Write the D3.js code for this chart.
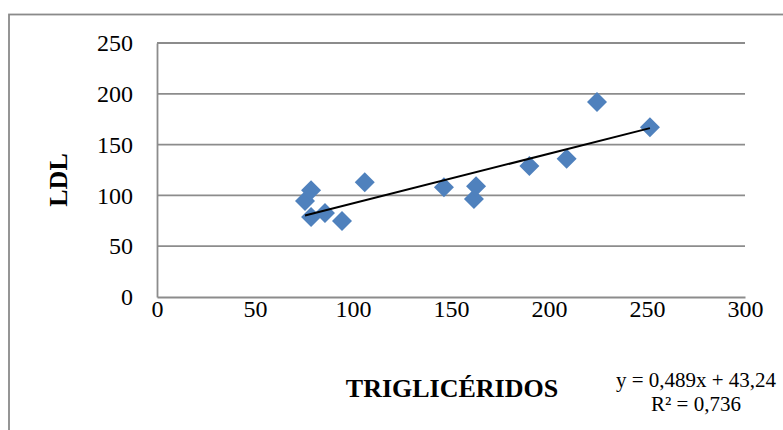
<!DOCTYPE html>
<html>
<head>
<meta charset="utf-8">
<script src="https://cdn.jsdelivr.net/npm/d3@7/dist/d3.min.js"></script>
<style>
  body { margin: 0; background: #fff; }
  svg { display: block; font-family: "Liberation Serif", "Times New Roman", serif; }
  svg text { font-family: "Liberation Serif", "Times New Roman", serif; }
</style>
</head>
<body>
<div id="chart"></div>
<script>
// triglicéridos (x) vs LDL (y)
const trigValues = [75.5, 78.6, 78.6, 85.7, 94.4, 106, 146.4, 161.7, 162.8, 190, 209, 224.5, 251.5];
const ldlValues = [94.5, 105, 78.7, 82.7, 74.8, 113, 108, 96.5, 109, 129, 136, 192, 167];
const xTicks = [0, 50, 100, 150, 200, 250, 300];
const yTicks = [0, 50, 100, 150, 200, 250];
// trendline from the chart's own label
const slope = 0.489;
const intercept = 43.24;
const eqLabel = 'y = 0,489x + 43,24';
const r2Label = 'R² = 0,736';

const WIDTH = 783;
const HEIGHT = 430;
const PLOT = {left: 157, right: 745, top: 43, bottom: 297};
const SERIF = '"Liberation Serif", "Times New Roman", serif';

const points = trigValues.map((x, i) => [x, ldlValues[i]]);

const xScale = d3.scaleLinear()
                 .domain([0, 300])
                 .range([PLOT.left, PLOT.right]);

const yScale = d3.scaleLinear()
                 .domain([0, 250])
                 .range([PLOT.bottom, PLOT.top]);

const svg = d3.select('#chart')
              .append('svg')
              .attr('width', WIDTH)
              .attr('height', HEIGHT);

// chart area border (runs off the right and bottom edges)
svg.append('rect')
   .attr('x', 9)
   .attr('y', 14.5)
   .attr('width', WIDTH + 20)
   .attr('height', HEIGHT + 20)
   .attr('fill', 'none')
   .attr('stroke', '#8a8a8a')
   .attr('stroke-width', 1.8);

// horizontal gridlines
svg.append('g')
   .selectAll('line')
   .data(yTicks.filter(t => t > 0))
   .enter()
   .append('line')
   .attr('x1', PLOT.left)
   .attr('x2', PLOT.right)
   .attr('y1', d => yScale(d))
   .attr('y2', d => yScale(d))
   .attr('stroke', '#8c8c8c')
   .attr('stroke-width', 1.8);

const xAxis = d3.axisBottom(xScale)
                .tickValues(xTicks)
                .tickSize(0)
                .tickPadding(3);

const yAxis = d3.axisLeft(yScale)
                .tickValues(yTicks)
                .tickSize(0)
                .tickPadding(24);

const xAx = svg.append('g')
               .attr('transform', `translate(0, ${PLOT.bottom})`)
               .call(xAxis);

const yAx = svg.append('g')
               .attr('transform', `translate(${PLOT.left}, 0)`)
               .call(yAxis);

[xAx, yAx].forEach(ax => {
  ax.attr('font-family', SERIF)
    .attr('font-size', 24);
  ax.select('.domain')
    .attr('stroke', '#8c8c8c')
    .attr('stroke-width', 1.8);
  ax.selectAll('text')
    .attr('fill', '#000');
});

// diamond markers
const diamond = d3.symbol().type(d3.symbolSquare).size(200);
svg.append('g')
   .selectAll('path')
   .data(points)
   .enter()
   .append('path')
   .attr('d', diamond)
   .attr('transform', d => `translate(${xScale(d[0])}, ${yScale(d[1])}) rotate(45)`)
   .attr('fill', '#4f81bd');

// trendline, drawn over the markers
const xMin = d3.min(trigValues);
const xMax = d3.max(trigValues);
svg.append('line')
   .attr('x1', xScale(xMin))
   .attr('y1', yScale(slope * xMin + intercept))
   .attr('x2', xScale(xMax))
   .attr('y2', yScale(slope * xMax + intercept))
   .attr('stroke', '#000')
   .attr('stroke-width', 2);

// axis titles
svg.append('text')
   .attr('x', 452)
   .attr('y', 397)
   .attr('text-anchor', 'middle')
   .style('font-size', '26px')
   .style('font-weight', 'bold')
   .text('TRIGLICÉRIDOS');

svg.append('text')
   .attr('transform', 'translate(67, 180) rotate(-90)')
   .attr('text-anchor', 'middle')
   .style('font-size', '26px')
   .style('font-weight', 'bold')
   .text('LDL');

// trendline label
svg.append('text')
   .attr('x', 696)
   .attr('y', 387)
   .attr('text-anchor', 'middle')
   .style('font-size', '21px')
   .text(eqLabel);

svg.append('text')
   .attr('x', 696)
   .attr('y', 411)
   .attr('text-anchor', 'middle')
   .style('font-size', '21px')
   .text(r2Label);
</script>
</body>
</html>
